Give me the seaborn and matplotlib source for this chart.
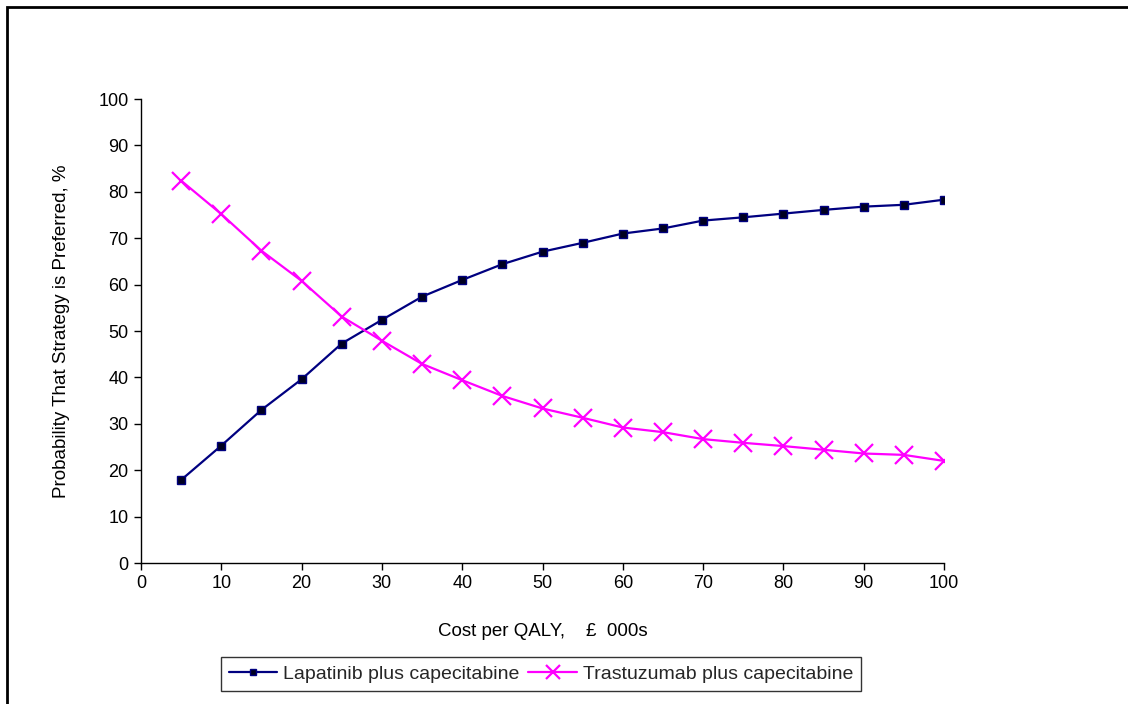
import matplotlib
matplotlib.use("Agg")
import matplotlib.pyplot as plt
import seaborn as sns
import pandas as pd
from matplotlib.patches import Rectangle
from matplotlib.lines import Line2D

cost = [5, 10, 15, 20, 25, 30, 35, 40, 45, 50, 55, 60, 65, 70, 75, 80, 85, 90, 95, 100]
lapatinib = [17.9, 25.3, 33.0, 39.6, 47.3, 52.4, 57.4, 61.0, 64.4, 67.1, 69.0, 71.0, 72.1, 73.8, 74.5, 75.3, 76.1, 76.8, 77.2, 78.3]
trastuzumab = [82.4, 75.2, 67.3, 60.8, 53.1, 47.9, 42.9, 39.4, 36.0, 33.3, 31.3, 29.2, 28.2, 26.7, 25.9, 25.2, 24.4, 23.6, 23.3, 22.0]
series_names = ["Lapatinib plus capecitabine", "Trastuzumab plus capecitabine"]
x_label = "Cost per QALY,    £  000s"
y_label = "Probability That Strategy is Preferred, %"

df_lap = pd.DataFrame({"cost": cost, "prob": lapatinib})
df_tra = pd.DataFrame({"cost": cost, "prob": trastuzumab})

sns.set_theme(style="white")
plt.rcParams["font.family"] = ["Liberation Sans", "DejaVu Sans"]

fig = plt.figure(figsize=(11.28, 7.04), dpi=100)
ax = fig.add_axes([141 / 1128, 1 - 563 / 704, (944 - 141) / 1128, (563 - 99) / 704])

sns.lineplot(data=df_lap, x="cost", y="prob", color="#000080", marker="s", markersize=5.2,
             markerfacecolor="#000020", markeredgecolor="#000080", markeredgewidth=1.0,
             linewidth=1.6, ax=ax)
sns.lineplot(data=df_tra, x="cost", y="prob", color="#FF00FF", marker="x", markersize=13,
             markeredgewidth=1.6, markeredgecolor="#FF00FF", linewidth=1.6, ax=ax)

ax.set_xlim(0, 100)
ax.set_ylim(0, 100)
ax.set_xticks(range(0, 101, 10))
ax.set_yticks(range(0, 101, 10))
for side in ["top", "right"]:
    ax.spines[side].set_visible(False)
for side in ["left", "bottom"]:
    ax.spines[side].set_color("black")
    ax.spines[side].set_linewidth(1.0)
ax.tick_params(axis="both", direction="out", length=5, width=1, color="black",
               labelsize=13, labelcolor="black", pad=4)
ax.tick_params(axis="both", which="both", left=True, bottom=True)
ax.set_xlabel(x_label, fontsize=13.5, color="black", labelpad=22)
ax.set_ylabel(y_label, fontsize=13.5, color="black", labelpad=20)

handles = [
    Line2D([], [], color="#000080", marker="s", markersize=4.5, markerfacecolor="#000020",
           markeredgecolor="#000080", linewidth=1.6),
    Line2D([], [], color="#FF00FF", marker="x", markersize=10, markeredgewidth=1.6, linewidth=1.6),
]
leg = fig.legend(handles, series_names, loc="center", bbox_to_anchor=(541 / 1128, 1 - 674 / 704),
                 ncol=2, frameon=True, fancybox=False, fontsize=14, handlelength=2.5,
                 handletextpad=0.3, columnspacing=0.45, borderpad=0.4, borderaxespad=0,
                 edgecolor="black")
leg.get_frame().set_linewidth(1.0)

# outer frame
fig.patches.append(Rectangle((7 / 1128, -0.1), 1.2, 1 - 7 / 704 + 0.1, transform=fig.transFigure,
                             fill=False, edgecolor="black", linewidth=2, zorder=0))

fig.savefig("out.png", dpi=100)
